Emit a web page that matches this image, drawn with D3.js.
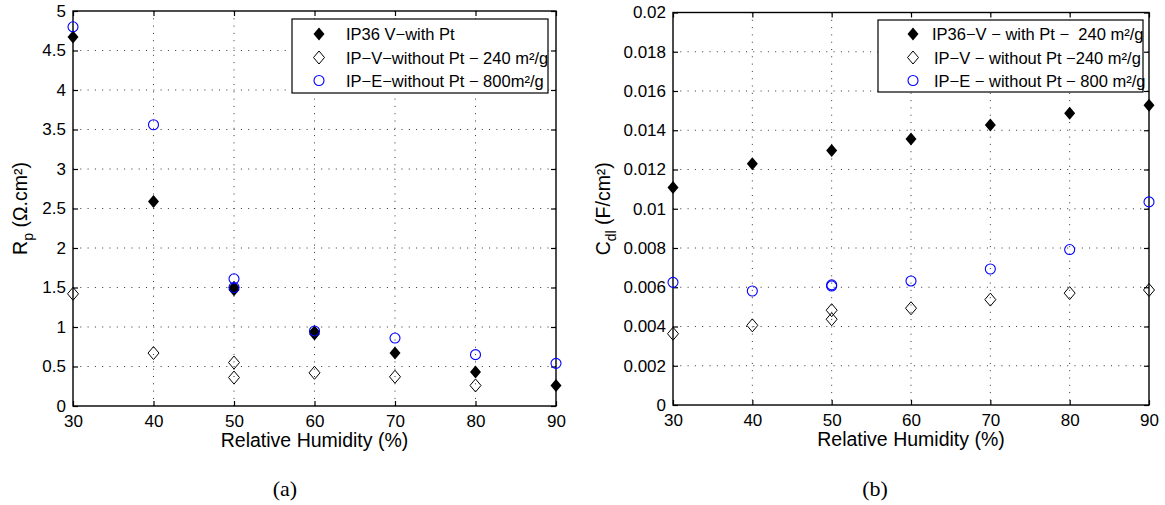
<!DOCTYPE html>
<html><head><meta charset="utf-8">
<script src="https://cdn.jsdelivr.net/npm/d3@7"></script>
<style>
body{margin:0;background:#fff;}
svg{display:block;font-family:"Liberation Sans",Arial,sans-serif;}
</style></head>
<body><svg id="c" width="1165" height="505"></svg>
<script>
// ---- data: panel (a) R_p ----
const humidityTicks = [30,40,50,60,70,80,90];
const rpTickLabels = ["0","0.5","1","1.5","2","2.5","3","3.5","4","4.5","5"];
const rpTickValues = [0,0.5,1,1.5,2,2.5,3,3.5,4,4.5,5];
const rpWithPtX = [30,40,50,50,60,60,70,80,90];
const rpWithPtY = [4.67,2.59,1.47,1.50,0.94,0.91,0.67,0.43,0.26];
const rpNoPt240X = [30,40,50,50,60,70,80];
const rpNoPt240Y = [1.42,0.67,0.55,0.36,0.42,0.37,0.26];
const rpNoPt800X = [30,40,50,50,60,70,80,90];
const rpNoPt800Y = [4.80,3.56,1.61,1.50,0.95,0.86,0.65,0.54];
const legendA = ["IP36 V\u2212with Pt","IP\u2212V\u2212without Pt \u2212 240 m\u00b2/g","IP\u2212E\u2212without Pt \u2212 800m\u00b2/g"];

// ---- data: panel (b) C_dl ----
const cdlTickLabels = ["0","0.002","0.004","0.006","0.008","0.01","0.012","0.014","0.016","0.018","0.02"];
const cdlTickValues = [0,0.002,0.004,0.006,0.008,0.01,0.012,0.014,0.016,0.018,0.02];
const cdlWithPtX = [30,40,50,60,70,80,90];
const cdlWithPtY = [0.01108,0.01229,0.01297,0.01356,0.01427,0.01487,0.01528];
const cdlNoPt240X = [30,40,50,50,60,70,80,90];
const cdlNoPt240Y = [0.00363,0.00406,0.00483,0.00437,0.00493,0.00537,0.00570,0.00586];
const cdlNoPt800X = [30,40,50,50,60,70,80,90];
const cdlNoPt800Y = [0.00625,0.00581,0.00612,0.00606,0.00632,0.00693,0.00792,0.01035];
const legendB = ["IP36\u2212V \u2212 with Pt \u2212  240 m\u00b2/g","IP\u2212V \u2212 without Pt \u2212240 m\u00b2/g","IP\u2212E \u2212 without Pt \u2212 800 m\u00b2/g"];

const svg = d3.select("#c");
const diamond = (hw,hh)=>`M0,${-hh}L${hw},0L0,${hh}L${-hw},0Z`;

function panel(o){
  const g = svg.append("g");
  const x = d3.scaleLinear().domain([30,90]).range([o.x0,o.x1]);
  const y = d3.scaleLinear().domain(o.ydom).range([o.y1,o.y0]);
  // grid
  g.append("g").selectAll("line").data(humidityTicks.slice(1,-1)).join("line")
    .attr("x1",d=>x(d)).attr("x2",d=>x(d)).attr("y1",o.y0).attr("y2",o.y1)
    .attr("stroke","#333").attr("stroke-width",1).attr("stroke-dasharray","1,6.3");
  g.append("g").selectAll("line").data(o.yticks.slice(1,-1)).join("line")
    .attr("y1",d=>y(d)).attr("y2",d=>y(d)).attr("x1",o.x0).attr("x2",o.x1)
    .attr("stroke","#333").attr("stroke-width",1).attr("stroke-dasharray","1,6.3");
  // axes with inward ticks
  const xb = d3.axisBottom(x).tickValues(humidityTicks).tickSize(-5).tickPadding(9).tickFormat(d=>d);
  const xt = d3.axisTop(x).tickValues(humidityTicks).tickSize(-5).tickFormat("");
  const yl = d3.axisLeft(y).tickValues(o.yticks).tickSize(-5).tickPadding(7).tickFormat((d,i)=>o.ylabels[i]);
  const yr = d3.axisRight(y).tickValues(o.yticks).tickSize(-5).tickFormat("");
  const style = a=>{a.selectAll(".domain").remove(); a.selectAll("line").attr("stroke","#000").attr("stroke-width",1.2);
    a.selectAll("text").attr("font-family","Liberation Sans, Arial, sans-serif").attr("font-size",17).attr("fill","#000");};
  g.append("g").attr("transform",`translate(0,${o.y1})`).call(xb).call(style);
  g.append("g").attr("transform",`translate(0,${o.y0})`).call(xt).call(style);
  g.append("g").attr("transform",`translate(${o.x0},0)`).call(yl).call(style);
  g.append("g").attr("transform",`translate(${o.x1},0)`).call(yr).call(style);
  g.append("rect").attr("x",o.x0).attr("y",o.y0).attr("width",o.x1-o.x0).attr("height",o.y1-o.y0)
    .attr("fill","none").attr("stroke","#000").attr("stroke-width",1.4);
  // points
  const pts = (xs,ys)=>xs.map((v,i)=>[v,ys[i]]);
  g.append("g").selectAll("path").data(pts(o.s1x,o.s1y)).join("path")
    .attr("d",diamond(5.5,6.5)).attr("transform",d=>`translate(${x(d[0])},${y(d[1])})`).attr("fill","#000");
  g.append("g").selectAll("path").data(pts(o.s2x,o.s2y)).join("path")
    .attr("d",diamond(5.5,6.5)).attr("transform",d=>`translate(${x(d[0])},${y(d[1])})`).attr("fill","none").attr("stroke","#000").attr("stroke-width",1);
  g.append("g").selectAll("circle").data(pts(o.s3x,o.s3y)).join("circle")
    .attr("cx",d=>x(d[0])).attr("cy",d=>y(d[1])).attr("r",5).attr("fill","none").attr("stroke","#0000ff").attr("stroke-width",1.1);
  // legend
  const L = o.leg;
  g.append("rect").attr("x",L.x0).attr("y",L.y0).attr("width",L.x1-L.x0).attr("height",L.y1-L.y0)
    .attr("fill","#fff").attr("stroke","#000").attr("stroke-width",1.2);
  const rows = [34,57.5,80.5];
  g.append("path").attr("d",diamond(5.5,6.5)).attr("transform",`translate(${L.mx},${rows[0]})`).attr("fill","#000");
  g.append("path").attr("d",diamond(5.5,6.5)).attr("transform",`translate(${L.mx},${rows[1]})`).attr("fill","none").attr("stroke","#000");
  g.append("circle").attr("cx",L.mx).attr("cy",rows[2]).attr("r",5).attr("fill","none").attr("stroke","#0000ff").attr("stroke-width",1.1);
  g.append("g").selectAll("text").data(o.legend).join("text")
    .attr("x",(d,i)=>L.tx[i]).attr("y",(d,i)=>rows[i]+6).attr("font-size",16.5).attr("fill","#000")
    .attr("xml:space","preserve").style("white-space","pre").text(d=>d);
  // x title
  g.append("text").attr("x",(o.x0+o.x1)/2).attr("y",o.y1+41).attr("text-anchor","middle").attr("font-size",19.5).text("Relative Humidity (%)");
  // y title
  const yt = g.append("text").attr("transform",`translate(${o.ylx},${(o.y0+o.y1)/2}) rotate(-90)`).attr("text-anchor","middle").attr("font-size",19.5);
  yt.append("tspan").text(o.ysym);
  yt.append("tspan").attr("dy",6).attr("font-size",14).text(o.ysub);
  yt.append("tspan").attr("dy",-6).text(o.yunit);
  // caption
  svg.append("text").attr("x",o.capx).attr("y",496).attr("text-anchor","middle")
    .attr("font-family","Liberation Serif, DejaVu Serif, serif").attr("font-size",22).text(o.cap);
}

panel({x0:73,x1:556,y0:11,y1:406,ydom:[0,5],yticks:rpTickValues,ylabels:rpTickLabels,
  s1x:rpWithPtX,s1y:rpWithPtY,s2x:rpNoPt240X,s2y:rpNoPt240Y,s3x:rpNoPt800X,s3y:rpNoPt800Y,
  leg:{x0:292,x1:548,y0:19,y1:93,mx:319,tx:[346,346,346]},legend:legendA,
  ylx:27,ysym:"R",ysub:"p",yunit:"  (\u03a9.cm\u00b2)",cap:"(a)",capx:285});
panel({x0:673,x1:1149,y0:12.5,y1:405,ydom:[0,0.02],yticks:cdlTickValues,ylabels:cdlTickLabels,
  s1x:cdlWithPtX,s1y:cdlWithPtY,s2x:cdlNoPt240X,s2y:cdlNoPt240Y,s3x:cdlNoPt800X,s3y:cdlNoPt800Y,
  leg:{x0:878,x1:1143,y0:20,y1:92,mx:913,tx:[932,934,934]},legend:legendB,
  ylx:610,ysym:"C",ysub:"dl",yunit:" (F/cm\u00b2)",cap:"(b)",capx:875});
</script></body></html>
